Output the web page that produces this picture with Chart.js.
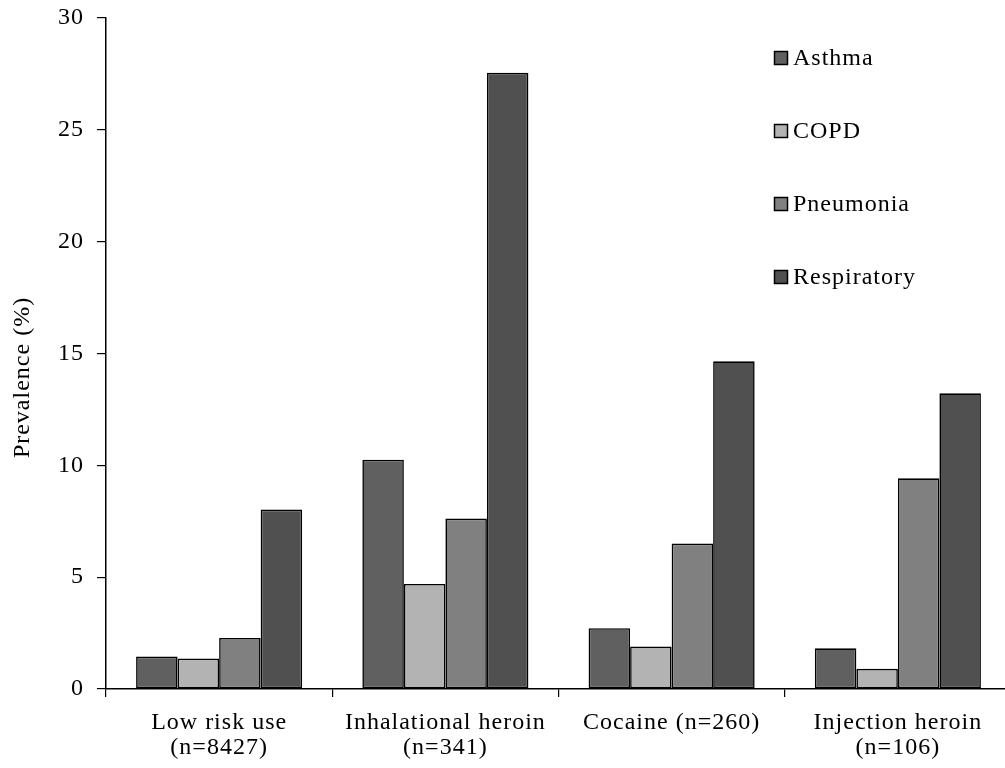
<!DOCTYPE html>
<html>
<head>
<meta charset="utf-8">
<script src="https://cdn.jsdelivr.net/npm/chart.js@4.4.0/dist/chart.umd.min.js"></script>
<style>
  html, body { margin: 0; padding: 0; background: #fff; overflow: hidden; }
  #wrap { position: absolute; left: 0; top: 0; width: 1016px; height: 768px; }
</style>
</head>
<body>
<div id="wrap"><canvas id="c"></canvas></div>
<script>
const categories = [["Low risk use", "(n=8427)"], ["Inhalational heroin", "(n=341)"], ["Cocaine (n=260)"], ["Injection heroin", "(n=106)"]];
const seriesNames = ["Asthma", "COPD", "Pneumonia", "Respiratory"];
const asthma = [1.45, 10.25, 2.72, 1.82];
const copd = [1.36, 4.7, 1.9, 0.9];
const pneumonia = [2.28, 7.62, 6.5, 9.42];
const respiratory = [8.02, 27.55, 14.65, 13.22];
const yTicks = [0, 5, 10, 15, 20, 25, 30];
const yTitle = "Prevalence (%)";
const colors = ["#606060", "#b3b3b3", "#808080", "#505050"];

const FONT = "'Liberation Serif', 'Times New Roman', serif";
const FSIZE = 24;

const spacingPlugin = {
  id: 'spacing',
  beforeUpdate(chart) { chart.ctx.letterSpacing = '1px'; },
  beforeLayout(chart) { chart.ctx.letterSpacing = '1px'; },
  beforeDraw(chart) { chart.ctx.letterSpacing = '1px'; }
};

const extrasPlugin = {
  id: 'extras',
  afterDraw(chart) {
    const ctx = chart.ctx;
    const area = chart.chartArea;
    ctx.save();
    ctx.letterSpacing = '1px';
    // legend
    const x0 = area.left + 668;
    const y0 = area.top + 40;
    const step = 73;
    chart.data.datasets.forEach((ds, i) => {
      const y = y0 + i * step;
      ctx.fillStyle = ds.backgroundColor;
      ctx.fillRect(x0, y - 7, 14, 14);
      ctx.strokeStyle = '#000';
      ctx.lineWidth = 1.5;
      ctx.strokeRect(x0 + 0.5, y - 6.5, 13, 13);
      ctx.fillStyle = '#000';
      ctx.font = FSIZE + "px " + FONT;
      ctx.textBaseline = 'middle';
      ctx.textAlign = 'left';
      ctx.fillText(ds.label, x0 + 19, y + 1);
    });
    // y-axis title
    ctx.translate(23, (area.top + area.bottom) / 2 + 24);
    ctx.rotate(-Math.PI / 2);
    ctx.textAlign = 'center';
    ctx.textBaseline = 'middle';
    ctx.font = FSIZE + "px " + FONT;
    ctx.fillStyle = '#000';
    ctx.fillText(yTitle, 0, 0);
    ctx.restore();
  }
};

new Chart(document.getElementById('c'), {
  type: 'bar',
  data: {
    labels: categories,
    datasets: [asthma, copd, pneumonia, respiratory].map((d, i) => ({
      label: seriesNames[i],
      data: d,
      backgroundColor: colors[i],
      borderColor: '#000',
      borderWidth: 1.6,
      borderSkipped: false,
      categoryPercentage: 0.734,
      barPercentage: 1.0
    }))
  },
  options: {
    responsive: true,
    maintainAspectRatio: false,
    animation: false,
    layout: { padding: { top: 18, right: 5, left: 0, bottom: 0 } },
    plugins: {
      legend: { display: false },
      tooltip: { enabled: false }
    },
    scales: {
      x: {
        offset: true,
        grid: { display: true, drawOnChartArea: false, drawTicks: true, tickLength: 8, color: '#000', lineWidth: 1.2, offset: true },
        border: { display: true, color: '#000', width: 1.5 },
        ticks: { color: '#000', font: { family: FONT, size: FSIZE, lineHeight: 1.05 }, padding: 13, maxRotation: 0, autoSkip: false },
        afterFit(axis) { axis.height = 79; axis.paddingLeft = 0; axis.paddingRight = 0; }
      },
      y: {
        min: 0, max: 30,
        afterBuildTicks(axis) { axis.ticks = yTicks.map(v => ({ value: v })); },
        grid: { display: true, drawOnChartArea: false, drawTicks: true, tickLength: 9, color: '#000', lineWidth: 1.2 },
        border: { display: true, color: '#000', width: 1.5 },
        ticks: { color: '#000', font: { family: FONT, size: FSIZE }, padding: 13 },
        title: { display: false },
        afterFit(axis) { axis.width = 106; axis.paddingTop = 0; axis.paddingBottom = 0; }
      }
    }
  },
  plugins: [spacingPlugin, extrasPlugin]
});
</script>
</body>
</html>
